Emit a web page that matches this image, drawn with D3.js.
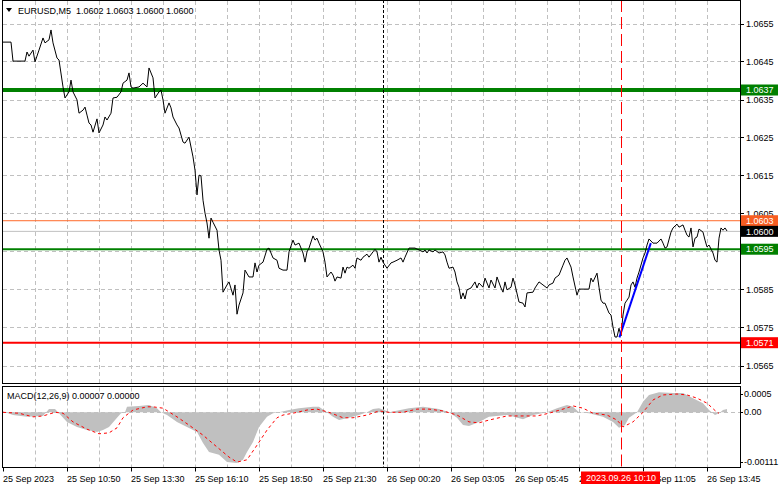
<!DOCTYPE html>
<html><head><meta charset="utf-8">
<script src="https://cdn.jsdelivr.net/npm/d3@7"></script>
<style>
body{margin:0;background:#fff;}
svg{display:block;}
text{font-family:"Liberation Sans",Arial,sans-serif;font-size:9px;}
</style>
</head><body>
<svg id="c" width="781" height="489"></svg>
<script>
// ---------- DATA ----------
const symbolTitle = "EURUSD,M5  1.0602 1.0603 1.0600 1.0600";
const macdTitle = "MACD(12,26,9) 0.00007 0.00000";

const priceBars = [0,4,5,11,12,13,15,16,18,20,21,23,24,25,27,28,30,31,33,34,35,37,38,40,41,42,43,44,45,47,48,50,51,52,54,55,57,59,60,62,63,64,65,68,70,72,73,75,76,78,79,80,81,83,84,85,87,88,90,91,93,94,95,96,97,98,99,100,101,102,103,104,105,107,108,109,110,112,113,115,116,117,118,120,121,123,125,126,127,128,130,132,133,135,137,138,140,142,143,145,146,148,149,150,151,152,153,155,156,157,158,160,161,162,164,165,166,167,169,170,171,172,173,175,176,177,179,180,182,183,185,186,187,188,189,190,192,194,195,197,199,200,201,203,205,206,208,210,211,212,213,215,216,218,220,221,222,223,225,226,227,228,229,230,231,232,234,236,237,238,240,241,243,244,246,247,249,250,251,252,254,255,256,258,260,261,262,265,266,268,270,272,273,275,276,278,280,281,282,284,285,287,288,293,294,295,297,298,299,300,301,303,304,305,306,307,308,309,310,311,312,313,314,315,316,317,318,320,321,322,323,325,327,329,330,331,332,334,335,337,338,340,341,342,343,344,345,346,347,348,350,351,352,353,355,356,357,358,359,360,361,362];
const priceClose = [1.06501,1.06501,1.06451,1.06451,1.06475,1.06464,1.06480,1.06449,1.06480,1.06512,1.06499,1.06507,1.06533,1.06499,1.06459,1.06454,1.06383,1.06354,1.06370,1.06401,1.06370,1.06349,1.06314,1.06322,1.06330,1.06309,1.06288,1.06283,1.06264,1.06299,1.06262,1.06283,1.06304,1.06296,1.06314,1.06354,1.06356,1.06370,1.06393,1.06401,1.06420,1.06383,1.06380,1.06383,1.06393,1.06383,1.06433,1.06407,1.06354,1.06370,1.06375,1.06349,1.06314,1.06341,1.06328,1.06304,1.06283,1.06275,1.06238,1.06235,1.06251,1.06225,1.06199,1.06164,1.06099,1.06151,1.06149,1.06085,1.06051,1.06025,1.05985,1.06038,1.06027,1.06006,1.05954,1.05927,1.05843,1.05862,1.05870,1.05835,1.05862,1.05785,1.05809,1.05841,1.05901,1.05883,1.05883,1.05920,1.05896,1.05914,1.05922,1.05956,1.05959,1.05933,1.05927,1.05906,1.05901,1.05901,1.05949,1.05980,1.05967,1.05972,1.05959,1.05946,1.05922,1.05949,1.05959,1.05991,1.05980,1.05985,1.05972,1.05949,1.05922,1.05883,1.05896,1.05888,1.05872,1.05883,1.05880,1.05909,1.05893,1.05909,1.05906,1.05914,1.05906,1.05933,1.05927,1.05935,1.05943,1.05935,1.05949,1.05956,1.05949,1.05922,1.05935,1.05922,1.05906,1.05920,1.05922,1.05927,1.05933,1.05922,1.05935,1.05959,1.05959,1.05959,1.05954,1.05949,1.05954,1.05946,1.05954,1.05949,1.05954,1.05946,1.05949,1.05941,1.05922,1.05906,1.05909,1.05896,1.05870,1.05856,1.05825,1.05841,1.05825,1.05849,1.05854,1.05870,1.05854,1.05867,1.05856,1.05880,1.05854,1.05875,1.05854,1.05883,1.05854,1.05843,1.05870,1.05849,1.05856,1.05880,1.05862,1.05817,1.05814,1.05804,1.05841,1.05843,1.05854,1.05870,1.05862,1.05854,1.05862,1.05867,1.05880,1.05888,1.05914,1.05927,1.05933,1.05909,1.05883,1.05835,1.05851,1.05851,1.05880,1.05870,1.05893,1.05856,1.05822,1.05814,1.05814,1.05788,1.05783,1.05751,1.05725,1.05725,1.05748,1.05728,1.05783,1.05814,1.05822,1.05830,1.05862,1.05870,1.05856,1.05880,1.05896,1.05933,1.05946,1.05967,1.05983,1.05972,1.05972,1.05983,1.05972,1.05959,1.05962,1.06001,1.06012,1.06022,1.06014,1.06020,1.06006,1.05993,1.05988,1.06012,1.05962,1.05985,1.05988,1.06009,1.06001,1.05980,1.05962,1.05967,1.05946,1.05927,1.05922,1.05985,1.06012,1.06006,1.06012,1.06004];

const histBars = [0,5,12,20,23,26,28,32,37,42,47,50,53,57,59,61,62,68,73,77,79,82,87,92,97,100,103,108,112,117,120,122,125,128,132,135,138,143,148,155,158,162,165,168,173,178,182,185,188,192,193,203,210,218,223,227,230,233,238,243,252,260,265,272,277,282,285,288,293,300,305,308,311,313,317,320,323,328,335,340,345,350,353,356,358,360,362];
const histVals = [0.00002,-0.00006,-0.00010,-0.00008,0.00007,0.00007,-0.00002,-0.00021,-0.00032,-0.00039,-0.00043,-0.00039,-0.00032,-0.00012,-0.00002,0,0.00012,0.00014,0.00016,0.00009,0,-0.00006,-0.00021,-0.00032,-0.00043,-0.00067,-0.00087,-0.00093,-0.00109,-0.00111,-0.00104,-0.00087,-0.00065,-0.00032,-0.00010,-0.00002,0,0.00005,0.00009,0.00012,0.00012,0,-0.00010,-0.00017,-0.00012,-0.00006,0,0.00007,0.00009,0.00003,0,0.00009,0.00012,0.00007,0,-0.00012,-0.00028,-0.00030,-0.00021,-0.00010,-0.00006,-0.00015,-0.00006,0,0.00009,0.00016,0.00012,0,-0.00002,-0.00010,-0.00021,-0.00034,-0.00028,-0.00012,0,0.00023,0.00038,0.00044,0.00042,0.00042,0.00031,0.00020,0.00005,-0.00006,-0.00002,0.00005,0.00007];

const sigBars = [0,8,15,20,26,30,35,42,48,53,57,60,65,72,75,80,87,93,100,107,113,117,122,127,132,137,140,145,152,157,163,170,175,182,188,193,200,207,213,220,227,233,238,243,252,260,267,273,280,285,290,295,302,307,310,315,320,325,330,337,342,347,352,357,358];
const sigVals = [0,-0.00002,-0.00010,-0.00008,0,-0.00002,-0.00021,-0.00037,-0.00047,-0.00045,-0.00034,-0.00012,0.00005,0.00012,0.00012,0.00009,-0.00010,-0.00028,-0.00050,-0.00076,-0.00098,-0.00109,-0.00104,-0.00072,-0.00039,-0.00012,-0.00006,-0.00002,0.00005,0.00007,0,-0.00012,-0.00012,-0.00006,0.00003,0,0,0.00007,0.00007,0.00003,-0.00006,-0.00021,-0.00023,-0.00017,-0.00008,-0.00008,-0.00008,-0.00002,0.00007,0.00014,0.00009,-0.00002,-0.00006,-0.00017,-0.00032,-0.00021,0,0.00027,0.00038,0.00040,0.00038,0.00031,0.00020,0,-0.00002];

const priceTicks = ["1.0655","1.0645","1.0635","1.0625","1.0615","1.0605","1.0595","1.0585","1.0575","1.0565"];
const macdTicks = ["0.0005","0.00","-0.00111"];
const macdTickVals = [0.0005,0,-0.00111];

const timeLabels = ["25 Sep 2023","25 Sep 10:50","25 Sep 13:30","25 Sep 16:10","25 Sep 18:50","25 Sep 21:30","26 Sep 00:20","26 Sep 03:05","26 Sep 05:45","26 Sep 08:25","26 Sep 11:05","26 Sep 13:45"];
const timeLabelBars = [0,32,64,96,128,160,192,224,256,288,320,352];

const levelValues = [1.06375,1.06031,1.06003,1.05956,1.05710];
const levelLabels = ["1.0637","1.0603","1.0600","1.0595","1.0571"];

const trendBars = [308.2,323.9];
const trendPrices = [1.05724,1.05972];

const dottedLineBar = 190;
const cursorBar = 309;
const cursorLabel = "2023.09.26 10:10";

// ---------- STYLES ----------
const levelStyles = [
  {stroke:"#008000", width:4, box:"#008000", text:"#fff"},
  {stroke:"#ff6a2a", width:1, box:"#f75d22", text:"#fff"},
  {stroke:"#c0c0c0", width:1, box:"#000000", text:"#fff"},
  {stroke:"#008000", width:2, box:"#008000", text:"#fff"},
  {stroke:"#ff0000", width:2, box:"#ff0000", text:"#fff"}
];

// ---------- LAYOUT ----------
const L = 3, R = 740;
const mainTop = 0, mainBot = 383;
const macdTop = 386.5, macdBot = 467.5;

const svg = d3.select("#c");
const x = d3.scaleLinear().domain([0, 368.5]).range([L, R]);
const y = d3.scaleLinear().domain([1.0565, 1.0655]).range([365.5, 23.5]);
const ym = d3.scaleLinear().domain([-0.00111, 0]).range([463, 412.3]);
const px = v => Math.round(v) + 0.5;

// grids
const gridG = svg.append("g").attr("stroke", "#c0c0c0").attr("stroke-dasharray", "4,3").attr("stroke-width", 1);
const vgrid = d3.range(16, 368, 16).filter(b => x(b) < R - 3);
gridG.selectAll(".vg").data(vgrid).join("line")
  .attr("x1", b => px(x(b))).attr("x2", b => px(x(b)))
  .attr("y1", mainTop + 1).attr("y2", mainBot);
gridG.selectAll(".vgm").data(vgrid).join("line")
  .attr("x1", b => px(x(b))).attr("x2", b => px(x(b)))
  .attr("y1", macdTop + 1).attr("y2", macdBot);
gridG.selectAll(".hg").data(priceTicks).join("line")
  .attr("x1", L).attr("x2", R)
  .attr("y1", d => px(y(+d))).attr("y2", d => px(y(+d)));
gridG.append("line").attr("x1", L).attr("x2", R)
  .attr("y1", px(ym(0))).attr("y2", px(ym(0)));

// level lines
svg.append("g").selectAll("line").data(levelValues).join("line")
  .attr("x1", L).attr("x2", R)
  .attr("y1", d => y(d)).attr("y2", d => y(d))
  .attr("stroke", (d, i) => levelStyles[i].stroke)
  .attr("stroke-width", (d, i) => levelStyles[i].width);

// price line
const priceData = priceBars.map((b, i) => [b, priceClose[i]]);
svg.append("path").datum(priceData)
  .attr("fill", "none").attr("stroke", "#000").attr("stroke-width", 1)
  .attr("d", d3.line().x(d => x(d[0])).y(d => y(d[1])));

// trend line
svg.append("line")
  .attr("x1", x(trendBars[0])).attr("y1", y(trendPrices[0]))
  .attr("x2", x(trendBars[1])).attr("y2", y(trendPrices[1]))
  .attr("stroke", "#0000ff").attr("stroke-width", 2);

// MACD histogram
const histData = histBars.map((b, i) => [b, histVals[i]]);
svg.append("path").datum(histData)
  .attr("fill", "#c0c0c0").attr("stroke", "none")
  .attr("d", d3.area().x(d => x(d[0])).y0(ym(0)).y1(d => ym(d[1])));
const sigData = sigBars.map((b, i) => [b, sigVals[i]]);
svg.append("path").datum(sigData)
  .attr("fill", "none").attr("stroke", "#ff0000").attr("stroke-width", 1)
  .attr("stroke-dasharray", "3,3")
  .attr("d", d3.line().x(d => x(d[0])).y(d => ym(d[1])));

// vertical lines
[[mainTop, mainBot], [macdTop, macdBot]].forEach(([a, b]) => {
  svg.append("line").attr("x1", px(x(dottedLineBar))).attr("x2", px(x(dottedLineBar)))
    .attr("y1", a).attr("y2", b).attr("stroke", "#000").attr("stroke-dasharray", "3,2");
  svg.append("line").attr("x1", px(x(cursorBar))).attr("x2", px(x(cursorBar)))
    .attr("y1", a).attr("y2", b).attr("stroke", "#ff0000").attr("stroke-dasharray", "12,5");
});

// frames
const frame = svg.append("g").attr("fill", "none").attr("stroke", "#000").attr("stroke-width", 1);
frame.append("rect").attr("x", L - 0.5).attr("y", mainTop + 0.5).attr("width", R - L + 1).attr("height", mainBot - mainTop);
frame.append("rect").attr("x", L - 0.5).attr("y", macdTop).attr("width", R - L + 1).attr("height", macdBot - macdTop);

// price axis ticks + labels (labels fully hidden behind a level box are not drawn)
const visibleTicks = priceTicks.filter(t => !levelValues.some(v => Math.abs(y(v) - y(+t)) < 4));
const axG = svg.append("g");
axG.selectAll("line").data(priceTicks).join("line")
  .attr("x1", R).attr("x2", R + 4)
  .attr("y1", d => px(y(+d))).attr("y2", d => px(y(+d))).attr("stroke", "#000");
axG.selectAll("text").data(visibleTicks).join("text")
  .attr("x", R + 6).attr("y", d => y(+d)).attr("dy", "0.35em").attr("fill", "#000")
  .text(d => d);

// macd axis
const clampM = v => Math.min(Math.max(ym(v), macdTop + 7.5), macdBot - 5.5);
const maG = svg.append("g");
maG.selectAll("text").data(macdTicks).join("text")
  .attr("x", R + 4)
  .attr("y", (d, i) => clampM(macdTickVals[i]))
  .attr("dy", "0.35em").attr("fill", "#000").text(d => d);
maG.selectAll("line").data(macdTickVals).join("line")
  .attr("x1", R).attr("x2", R + 3)
  .attr("y1", d => px(clampM(d))).attr("y2", d => px(clampM(d))).attr("stroke", "#000");

// level label boxes
const lb = svg.append("g").selectAll("g").data(levelValues).join("g")
  .attr("transform", d => `translate(${R + 1},${y(d)})`);
lb.append("rect").attr("x", 0).attr("y", -5.5).attr("width", 37).attr("height", 11)
  .attr("fill", (d, i) => levelStyles[i].box);
lb.append("text").attr("x", 5).attr("y", 0).attr("dy", "0.35em")
  .attr("fill", (d, i) => levelStyles[i].text).text((d, i) => levelLabels[i]);

// time axis
const tG = svg.append("g");
tG.selectAll("line").data(timeLabelBars).join("line")
  .attr("x1", b => px(x(b))).attr("x2", b => px(x(b)))
  .attr("y1", macdBot).attr("y2", macdBot + 4).attr("stroke", "#000");
tG.selectAll("text").data(timeLabels).join("text")
  .attr("x", (d, i) => x(timeLabelBars[i])).attr("y", 481.5).attr("fill", "#000").text(d => d);

// cursor time label
const cx = x(cursorBar);
svg.append("rect").attr("x", cx - 40).attr("y", 471.5).attr("width", 79).attr("height", 12.5).attr("fill", "#ff0000");
svg.append("text").attr("x", cx).attr("y", 481.3).attr("text-anchor", "middle").attr("fill", "#fff").text(cursorLabel);

// titles
svg.append("path").attr("d", "M6,8 L12,8 L9,12 Z").attr("fill", "#000");
svg.append("text").attr("x", 18).attr("y", 13.5).attr("fill", "#000").attr("xml:space", "preserve").style("white-space", "pre").text(symbolTitle);
svg.append("text").attr("x", 7).attr("y", 399).attr("fill", "#000").text(macdTitle);
</script>
</body></html>
